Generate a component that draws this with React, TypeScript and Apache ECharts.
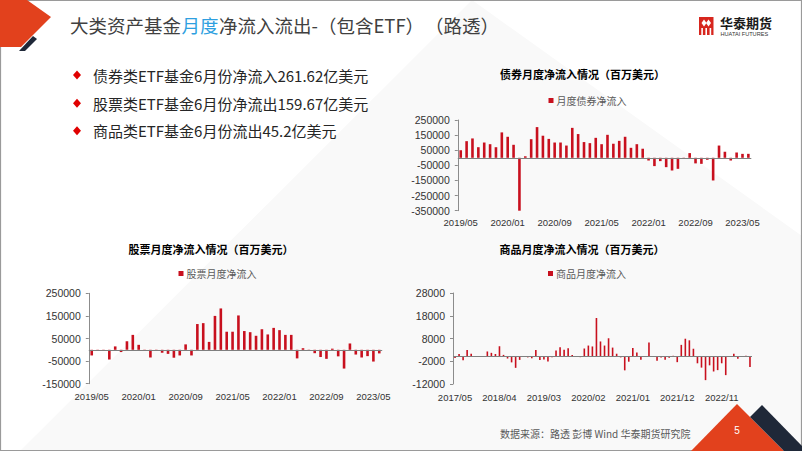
import React, { useEffect, useRef } from "react";
import * as echarts from "echarts";

function monthLabels(y0: number, m0: number, n: number): string[] {
  const out: string[] = [];
  let y = y0, m = m0;
  for (let i = 0; i < n; i++) {
    out.push(`${y}/${m < 10 ? "0" + m : m}`);
    m++;
    if (m > 12) { m = 1; y++; }
  }
  return out;
}

const bondCategories = monthLabels(2019, 5, 50);
const stockCategories = monthLabels(2019, 5, 50);
const commodityCategories = monthLabels(2017, 5, 74);

const bondValues = [
  50000, 110000, 128000, 70000, 101000, 90000, 70000, 168000, 139000, 86000,
  -350000, 10000, 123000, 203000, 146000, 125000, 101000, 101000, 81000, 198000,
  157000, 104000, 97000, 132000, 90000, 152000, 93000, 112000, 139000, 66000,
  90000, 60000, -18000, -55000, -22000, -62000, -84000, -73000, -2000, 31000,
  -37000, -40000, -13000, -150000, 81000, 40000, -18000, 35000, 26000, 26162,
];

const stockValues = [
  -25000, -3000, -2000, -43000, 15000, -10000, 38000, 66000, 22000, 1000,
  -34000, 1000, -13000, -18000, -35000, -25000, 24000, -25000, 114000, 118000,
  35000, 150000, 183000, 80000, 80000, 152000, 83000, 78000, 62000, 91000,
  68000, 97000, 87000, 66000, 66000, -38000, 7000, 1000, -15000, -32000,
  -40000, 5000, -29000, -83000, 28000, -21000, -34000, -28000, -52000, -15967,
];

const commodityValues = [
  -600, 1200, -1600, 3000, 1300, 0, 300, 0, 2300, 1700,
  1200, 4600, 800, -800, -2500, -4900, -1400, 200, -300, -700,
  2900, -1400, -1200, -2100, -200, 2700, 4100, 3100, 3700, 800,
  0, -200, 3600, 4900, 4500, 17000, 6700, 4900, 8100, 4000,
  1300, -300, -6000, -2200, 3800, 1800, -1300, 0, 6200, 100,
  -1800, -300, -1300, -500, 400, -2400, 5200, 7900, 7200, 3500,
  -2900, -4800, -10300, -3800, -6500, -5900, -2900, -8100, 0, 1300,
  -900, 0, 400, -4520,
];

const bondTicks = { min: -350000, max: 250000, interval: 100000 };
const stockTicks = { min: -150000, max: 250000, interval: 100000 };
const commodityTicks = { min: -12000, max: 28000, interval: 10000 };

const bullets = [
  "债券类ETF基金6月份净流入261.62亿美元",
  "股票类ETF基金6月份净流出159.67亿美元",
  "商品类ETF基金6月份流出45.2亿美元",
];

const BAR = "#C8101E";
const AXIS = "#8C8C8C";
const CJK = '"Noto Sans CJK SC", "Noto Sans", sans-serif';
const LAT = '"Liberation Sans", Arial, sans-serif';

export default function App() {
  const ref = useRef<HTMLDivElement>(null);
  useEffect(() => {
    document.body.style.margin = "0";
    if (!ref.current) return;
    const chart = echarts.init(ref.current, null, { renderer: "svg" });

    const grids = [
      { left: 457.8, top: 120, width: 293.5, height: 90.7 },
      { left: 88.8, top: 293.3, width: 293.4, height: 90.4 },
      { left: 453, top: 293, width: 299, height: 91 },
    ];
    const cats = [bondCategories, stockCategories, commodityCategories];
    const ticks = [bondTicks, stockTicks, commodityTicks];
    const vals = [bondValues, stockValues, commodityValues];
    const names = ["月度债券净流入", "股票月度净流入", "商品月度净流入"];
    const labelIntervals = [7, 7, 10];
    const barWidths = [2.6, 2.6, 1.6];
    const labelMargins = [7, 8, 8];
    const legendPos = [
      { left: 548.5, top: 95.5 },
      { left: 178.5, top: 268.5 },
      { left: 548, top: 268.5 },
    ];

    const titleText = (x: number, y: number, text: string) => ({
      type: "text",
      x,
      y,
      style: {
        text,
        fill: "#000",
        fontSize: 11,
        fontWeight: "bold",
        fontFamily: CJK,
        textAlign: "left",
        textVerticalAlign: "middle",
      },
    });

    const bulletY = [75, 103.3, 130.7];

    const graphic: any[] = [
      {
        type: "polygon",
        z: -10,
        shape: { points: [[472, 0], [802, 236], [802, 451], [20, 451]] },
        style: { fill: "#F9F9F9" },
      },
      {
        type: "rect",
        shape: { x: 0.5, y: 0.5, width: 801, height: 450 },
        style: { fill: "none", stroke: "#9A9A9A", lineWidth: 1.2 },
      },
      // top-left decoration
      {
        type: "polygon",
        shape: { points: [[0, 0], [27, 0], [51, 17], [21, 47], [0, 47]] },
        style: { fill: "#E2411D" },
      },
      {
        type: "polygon",
        shape: { points: [[19, 51], [33, 36], [37, 39], [25, 51]] },
        style: { fill: "#1F2838" },
      },
      // main title
      {
        type: "text", x: 70, y: 25,
        style: { text: "大类资产基金", fill: "#404040", fontSize: 18.5, fontFamily: CJK, textVerticalAlign: "middle" },
      },
      {
        type: "text", x: 181.5, y: 25,
        style: { text: "月度", fill: "#2E9FE0", fontSize: 18.5, fontFamily: CJK, textVerticalAlign: "middle" },
      },
      {
        type: "text", x: 219, y: 25,
        style: { text: "净流入流出-（包含ETF）", fill: "#404040", fontSize: 18.5, fontFamily: CJK, textVerticalAlign: "middle" },
      },
      {
        type: "text", x: 425, y: 25,
        style: { text: "（路透）", fill: "#404040", fontSize: 18.5, fontFamily: CJK, textVerticalAlign: "middle" },
      },
      // logo
      {
        type: "rect",
        shape: { x: 699, y: 17, width: 14.5, height: 18 },
        style: { fill: "#D7261E" },
      },
      {
        type: "polygon",
        shape: { points: [[701.5, 23], [704, 19.5], [706.5, 23], [704, 26.5]] },
        style: { fill: "#fff" },
      },
      {
        type: "polygon",
        shape: { points: [[706, 23], [708.5, 19.5], [711, 23], [708.5, 26.5]] },
        style: { fill: "#fff" },
      },
      { type: "rect", shape: { x: 701.3, y: 28, width: 1.6, height: 7 }, style: { fill: "#fff" } },
      { type: "rect", shape: { x: 705.4, y: 28, width: 1.6, height: 7 }, style: { fill: "#fff" } },
      { type: "rect", shape: { x: 709.6, y: 28, width: 1.6, height: 7 }, style: { fill: "#fff" } },
      {
        type: "text", x: 720, y: 22.5,
        style: { text: "华泰期货", fill: "#1A1A1A", fontSize: 13, fontWeight: "bold", fontFamily: CJK, textVerticalAlign: "middle" },
      },
      {
        type: "text", x: 720.5, y: 34.3,
        style: { text: "HUATAI FUTURES", fill: "#333", fontSize: 5.6, fontFamily: LAT, textVerticalAlign: "middle" },
      },
      // chart titles
      titleText(500, 73.5, "债券月度净流入情况（百万美元）"),
      titleText(128.5, 248.5, "股票月度净流入情况（百万美元）"),
      titleText(499.5, 249, "商品月度净流入情况（百万美元）"),
      // footer
      {
        type: "text", x: 500, y: 433,
        style: { text: "数据来源：路透 彭博 Wind 华泰期货研究院", fill: "#595959", fontSize: 10, fontFamily: CJK, textVerticalAlign: "middle" },
      },
      {
        type: "polygon",
        shape: { points: [[691, 451], [737, 404], [784, 451]] },
        style: { fill: "#E2411D" },
      },
      {
        type: "polygon",
        shape: { points: [[750, 417], [762, 405], [802, 446], [802, 451], [784, 451]] },
        style: { fill: "#1F2838" },
      },
      {
        type: "text", x: 737, y: 430,
        style: { text: "5", fill: "#fff", fontSize: 10, fontFamily: LAT, textAlign: "center", textVerticalAlign: "middle" },
      },
    ];

    bullets.forEach((b, i) => {
      const y = bulletY[i];
      graphic.push({
        type: "polygon",
        shape: { points: [[73, y], [77, y - 4.5], [81, y], [77, y + 4.5]] },
        style: { fill: "#E00000" },
      });
      graphic.push({
        type: "text", x: 93, y,
        style: { text: b, fill: "#262626", fontSize: 15, fontFamily: CJK, textVerticalAlign: "middle" },
      });
    });

    const option: any = {
      animation: false,
      backgroundColor: "#fff",
      grid: grids.map((g) => ({ ...g, containLabel: false })),
      xAxis: cats.map((c, i) => ({
        type: "category",
        gridIndex: i,
        data: c,
        boundaryGap: true,
        axisLine: { show: false, onZero: false },
        axisTick: { show: false },
        axisLabel: {
          interval: labelIntervals[i],
          fontSize: 9.5,
          fontFamily: LAT,
          color: "#333",
          margin: labelMargins[i],
        },
        splitLine: { show: false },
      })),
      yAxis: ticks.map((t, i) => ({
        type: "value",
        gridIndex: i,
        min: t.min,
        max: t.max,
        interval: t.interval,
        axisLine: { show: true, lineStyle: { color: AXIS } },
        axisTick: { show: true, length: 3, lineStyle: { color: AXIS } },
        axisLabel: {
          fontSize: 10.5,
          fontFamily: LAT,
          color: "#333",
          margin: 8,
          formatter: (v: number) => String(v),
        },
        splitLine: { show: false },
      })),
      legend: names.map((n, i) => ({
        data: [n],
        left: legendPos[i].left,
        top: legendPos[i].top,
        padding: 0,
        icon: "rect",
        itemWidth: 5,
        itemHeight: 5,
        itemGap: 4,
        textStyle: { fontSize: 10, fontFamily: CJK, color: "#595959", padding: [0, 0, 0, -2] },
      })),
      series: vals.map((v, i) => ({
        name: names[i],
        type: "bar",
        xAxisIndex: i,
        yAxisIndex: i,
        data: v,
        barWidth: barWidths[i],
        itemStyle: { color: BAR },
        markLine: {
          silent: true,
          symbol: "none",
          label: { show: false },
          lineStyle: { color: "#7F7F7F", width: 1, type: "solid" },
          data: [{ yAxis: 0 }],
        },
      })),
      graphic: { elements: graphic },
    };

    chart.setOption(option);
    return () => chart.dispose();
  }, []);

  return <div ref={ref} style={{ width: 802, height: 451 }} />;
}
